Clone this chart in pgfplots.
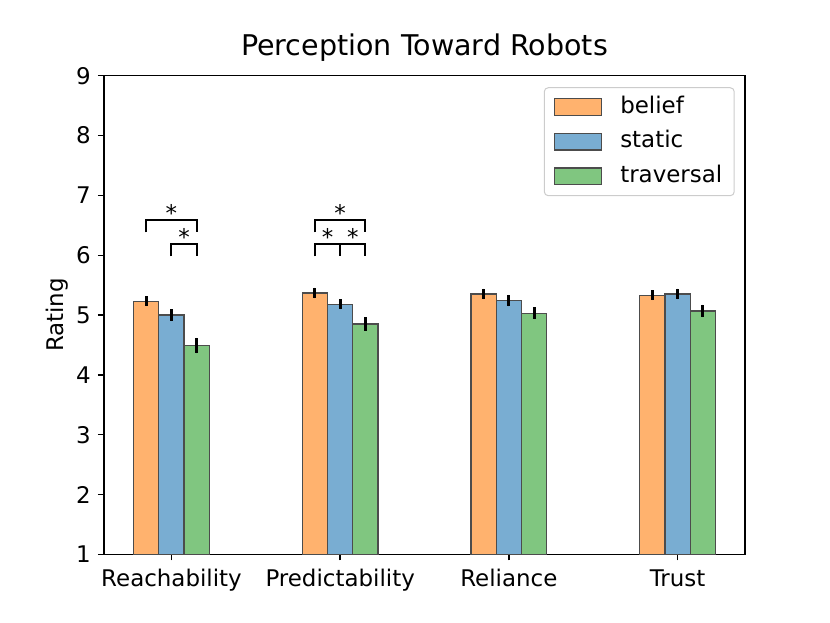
\documentclass[border=0pt]{standalone}
\usepackage{fontspec}
\setmainfont{DejaVu Sans}
\usepackage{pgfplots}
\pgfplotsset{compat=1.18}
\definecolor{cOrange}{RGB}{255,178,110}
\definecolor{cBlue}{RGB}{121,173,210}
\definecolor{cGreen}{RGB}{128,198,128}
\pgfplotsset{
  mybar/.style={ybar, bar width=0.15, bar shift=0pt, draw=black!70, line width=1pt,
    legend image code/.code={\draw[##1, line width=1pt, sharp corners] (0pt,-6.25pt) rectangle (35.5pt,6.25pt);
      \path[draw=none, fill=none] (0pt,0pt) -- (47.5pt,0pt);},
    error bars/y dir=both, error bars/y explicit, error bars/error mark=none,
    error bars/error bar style={line width=2.2pt, black, solid}},
  bracket/.style={black, line width=1.5pt, no markers, forget plot, sharp plot},
}
\newcommand{\fs}{\fontsize{17.2}{20}\selectfont}
\begin{document}
\begin{tikzpicture}
\path[use as bounding box] (0,0) rectangle (622.5pt,467.25pt);
\begin{axis}[
  at={(78pt,51.5pt)}, anchor=south west,
  scale only axis, width=480.75pt, height=358.95pt,
  xmin=-0.4, xmax=3.4, ymin=1, ymax=9,
  xtick={0,1,2,3},
  xticklabels={Reachability,Predictability,Reliance,Trust},
  ytick={1,2,3,4,5,6,7,8,9},
  tick pos=left, tick align=outside, major tick length=4.5pt,
  tick style={black, line width=1pt},
  axis line style={black, line width=1pt},
  /pgf/number format/assume math mode=true,
  ticklabel style={font=\fs},
  xticklabel style={anchor=base, yshift=-19.5pt},
  yticklabel style={anchor=east, xshift=-2pt},
  ylabel={Rating},
  ylabel style={font=\fs, at={(rel axis cs:0,0.5)}, anchor=center, yshift=35pt},
  title={Perception Toward Robots},
  title style={font=\fontsize{21.4}{24}\selectfont, at={(rel axis cs:0.5,1)}, anchor=base, yshift=9.3pt},
  legend style={at={(rel axis cs:0.984,0.976)}, anchor=north east, draw=black!20, rounded corners=3pt,
    line width=0.75pt, font=\fs, row sep=5pt, inner xsep=7pt, inner ysep=4pt,
    nodes={inner sep=2pt, text height=13pt, text depth=4pt}},
  legend cell align=left,
  clip=true,
]
\addplot[mybar, fill=cOrange] coordinates {
  (-0.15,5.23) +- (0,0.08)
  (0.85,5.37) +- (0,0.09)
  (1.85,5.35) +- (0,0.09)
  (2.85,5.33) +- (0,0.08)
};
\addlegendentry{belief}
\addplot[mybar, fill=cBlue] coordinates {
  (0,5.00) +- (0,0.10)
  (1,5.18) +- (0,0.08)
  (2,5.24) +- (0,0.095)
  (3,5.35) +- (0,0.09)
};
\addlegendentry{static}
\addplot[mybar, fill=cGreen] coordinates {
  (0.15,4.49) +- (0,0.13)
  (1.15,4.85) +- (0,0.11)
  (2.15,5.03) +- (0,0.10)
  (3.15,5.07) +- (0,0.105)
};
\addlegendentry{traversal}
% significance brackets
\addplot[bracket] coordinates {(-0.15,6.38) (-0.15,6.595) (0.15,6.595) (0.15,6.38)};
\addplot[bracket] coordinates {(0,5.98) (0,6.19) (0.15,6.19) (0.15,5.98)};
\addplot[bracket] coordinates {(0.85,6.38) (0.85,6.595) (1.15,6.595) (1.15,6.38)};
\addplot[bracket] coordinates {(0.85,5.98) (0.85,6.19) (1.15,6.19) (1.15,5.98)};
\addplot[bracket] coordinates {(1,6.19) (1,5.98)};
\node[anchor=north, inner sep=0pt, font=\fs] at (axis cs:0,6.857) {*};
\node[anchor=north, inner sep=0pt, font=\fs] at (axis cs:0.075,6.45) {*};
\node[anchor=north, inner sep=0pt, font=\fs] at (axis cs:1,6.857) {*};
\node[anchor=north, inner sep=0pt, font=\fs] at (axis cs:0.925,6.45) {*};
\node[anchor=north, inner sep=0pt, font=\fs] at (axis cs:1.075,6.45) {*};
\end{axis}
\end{tikzpicture}
\end{document}
